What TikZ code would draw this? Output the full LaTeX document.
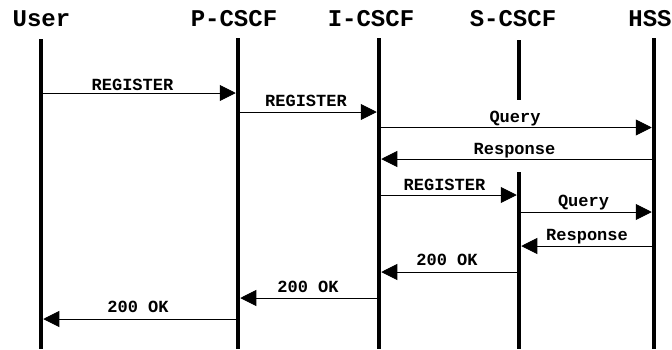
\documentclass[tikz,border=0pt]{standalone}
\usepackage{fontspec}
\newfontfamily\diafont{Liberation Mono}
\usetikzlibrary{arrows.meta}
\begin{document}
\begin{tikzpicture}[x=1pt,y=-1pt,
  head/.style={font=\diafont\bfseries\fontsize{24}{24}\selectfont, anchor=base, inner sep=0pt},
  lbl/.style={font=\diafont\bfseries\fontsize{17}{17}\selectfont, anchor=base, inner sep=0pt},
  life/.style={line width=4.5pt},
  msg/.style={line width=0.9pt, -{Triangle[length=16pt,width=16pt]}}]
\useasboundingbox (0,0) rectangle (672,349);
% headers
\node[head] (user)  at (41.5,26) {User};
\node[head] (pcscf) at (234,26) {P-CSCF};
\node[head] (icscf) at (371,26) {I-CSCF};
\node[head] (scscf) at (513,26) {S-CSCF};
\node[head] (hss)   at (650,26) {HSS};
% lifelines
\coordinate (uT) at (41,39);   \coordinate (uB) at (41,349);
\coordinate (pT) at (238,38);  \coordinate (pB) at (238,349);
\coordinate (iT) at (379,38);  \coordinate (iB) at (379,349);
\coordinate (sT) at (519,40);  \coordinate (sM) at (519,100);
\coordinate (sN) at (519,172); \coordinate (sB) at (519,349);
\coordinate (hT) at (654,38);  \coordinate (hB) at (654,349);
\draw[life] (uT) -- (uB);
\draw[life] (pT) -- (pB);
\draw[life] (iT) -- (iB);
\draw[life] (sT) -- (sM);
\draw[life] (sN) -- (sB);
\draw[life] (hT) -- (hB);
% message end points
\coordinate (a1) at (41,93);     \coordinate (b1) at (235.75,93);
\coordinate (a2) at (238,112);   \coordinate (b2) at (376.75,112);
\coordinate (a3) at (379,127.5); \coordinate (b3) at (651.75,127.5);
\coordinate (a4) at (654,159);   \coordinate (b4) at (381.25,159);
\coordinate (a5) at (379,195);   \coordinate (b5) at (516.75,195);
\coordinate (a6) at (519,212);   \coordinate (b6) at (651.75,212);
\coordinate (a7) at (654,246);   \coordinate (b7) at (521.25,246);
\coordinate (a8) at (519,272);   \coordinate (b8) at (381.25,272);
\coordinate (a9) at (379,298);   \coordinate (b9) at (240.25,298);
\coordinate (a10) at (238,319);  \coordinate (b10) at (43.25,319);
% messages
\draw[msg] (a1) -- (b1);
\draw[msg] (a2) -- (b2);
\draw[msg] (a3) -- (b3);
\draw[msg] (a4) -- (b4);
\draw[msg] (a5) -- (b5);
\draw[msg] (a6) -- (b6);
\draw[msg] (a7) -- (b7);
\draw[msg] (a8) -- (b8);
\draw[msg] (a9) -- (b9);
\draw[msg] (a10) -- (b10);
% labels
\node[lbl] (l1)  at (132.5,90) {REGISTER};
\node[lbl] (l2)  at (306,106) {REGISTER};
\node[lbl] (l3)  at (515,122) {Query};
\node[lbl] (l4)  at (514.5,154) {Response};
\node[lbl] (l5)  at (444.5,190) {REGISTER};
\node[lbl] (l6)  at (583.5,206) {Query};
\node[lbl] (l7)  at (587,240) {Response};
\node[lbl] (l8)  at (447,265) {200 OK};
\node[lbl] (l9)  at (308,292) {200 OK};
\node[lbl] (l10) at (138,312) {200 OK};
\end{tikzpicture}
\end{document}
